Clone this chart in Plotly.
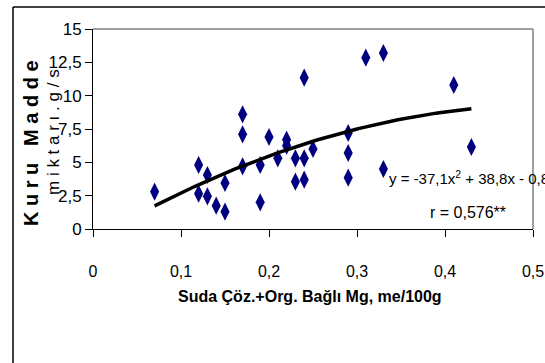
import plotly.graph_objects as go
import numpy as np

# Data
mg = [0.07, 0.12, 0.12, 0.13, 0.13, 0.14, 0.15, 0.15, 0.17, 0.17, 0.17,
      0.19, 0.19, 0.20, 0.21, 0.22, 0.22, 0.23, 0.23, 0.24, 0.24, 0.24,
      0.25, 0.29, 0.29, 0.29, 0.31, 0.33, 0.33, 0.41, 0.43]
kuru_madde = [2.8, 4.8, 2.65, 4.05, 2.45, 1.75, 3.45, 1.3, 8.6, 7.1, 4.7,
              4.8, 2.0, 6.9, 5.3, 6.7, 6.25, 5.3, 3.55, 11.35, 5.3, 3.7,
              6.0, 7.2, 5.7, 3.85, 12.85, 13.2, 4.5, 10.8, 6.15]

# Trend line coefficients (from the chart's equation)
coef_a, coef_b, coef_c = -37.1, 38.8, -0.8
trend_x_min, trend_x_max = 0.07, 0.43

x_ticks = [0, 0.1, 0.2, 0.3, 0.4, 0.5]
x_tick_labels = ["0", "0,1", "0,2", "0,3", "0,4", "0,5"]
y_ticks = [0, 2.5, 5, 7.5, 10, 12.5, 15]
y_tick_labels = ["0", "2,5", "5", "7,5", "10", "12,5", "15"]

FONT = "Liberation Sans, Arial, sans-serif"

tx = np.linspace(trend_x_min, trend_x_max, 100)
ty = coef_a * tx**2 + coef_b * tx + coef_c

fig = go.Figure()
fig.add_trace(go.Scatter(x=mg, y=kuru_madde, mode="markers",
                         marker=dict(symbol="diamond-tall", size=13, color="#000080",
                                     line=dict(width=0)),
                         cliponaxis=False, showlegend=False))
fig.add_trace(go.Scatter(x=tx, y=ty, mode="lines",
                         line=dict(color="black", width=3.5), showlegend=False))

W, H = 545, 363
L, R, T, B = 93, 12, 29, 134
PW, PH = W - L - R, H - T - B

def px_x(p):
    return (p - L) / PW

def px_y(p):
    return (H - B - p) / PH

fig.update_layout(
    width=W, height=H,
    margin=dict(l=L, r=R, t=T, b=B, autoexpand=False),
    paper_bgcolor="white", plot_bgcolor="white",
    font=dict(family=FONT, size=16, color="black"),
    xaxis=dict(range=[0, 0.5], tickvals=x_ticks, ticktext=x_tick_labels,
               automargin=False,
               showgrid=False, zeroline=False, showline=True, linecolor="black",
               linewidth=1, ticks="outside", ticklen=7, tickcolor="black",
               ticklabelstandoff=21, tickfont=dict(size=16, family=FONT)),
    yaxis=dict(range=[0, 15], tickvals=y_ticks, ticktext=y_tick_labels,
               automargin=False,
               showgrid=False, zeroline=False, showline=True, linecolor="black",
               linewidth=1, ticks="outside", ticklen=7, tickcolor="black",
               tickfont=dict(size=17, family=FONT)),
    shapes=[
        dict(type="line", xref="paper", yref="paper", x0=0, x1=1, y0=1, y1=1,
             line=dict(color="#808080", width=1.5)),
        dict(type="line", xref="paper", yref="paper", x0=1, x1=1, y0=0, y1=1,
             line=dict(color="#808080", width=1.5)),
        dict(type="line", xref="paper", yref="paper",
             x0=px_x(13), x1=px_x(13), y0=px_y(364), y1=px_y(7),
             line=dict(color="black", width=1.5)),
        dict(type="line", xref="paper", yref="paper",
             x0=px_x(13), x1=px_x(546), y0=px_y(7), y1=px_y(7),
             line=dict(color="black", width=1.5)),
    ],
    annotations=[
        dict(text="Suda Çöz.+Org. Bağlı Mg, me/100g", xref="paper", yref="paper",
             x=px_x(310), y=px_y(296), showarrow=False,
             xanchor="center", yanchor="middle",
             font=dict(size=16, family=FONT, color="black", weight="bold")),
        dict(text="K u r u   M a d d e", xref="paper", yref="paper",
             x=px_x(31), y=px_y(143), showarrow=False, textangle=-90,
             xanchor="center", yanchor="middle",
             font=dict(size=20, family=FONT, color="black", weight="bold")),
        dict(text="m i k t a r ı . g / s", xref="paper", yref="paper",
             x=px_x(53), y=px_y(132), showarrow=False, textangle=-90,
             xanchor="center", yanchor="middle",
             font=dict(size=17, family=FONT, color="black")),
        dict(text="y = -37,1x<sup>2</sup> + 38,8x - 0,8", xref="paper", yref="paper",
             x=px_x(387), y=px_y(177), showarrow=False,
             xanchor="left", yanchor="middle",
             font=dict(size=15, family=FONT, color="black")),
        dict(text="r = 0,576**", xref="paper", yref="paper",
             x=px_x(468), y=px_y(212), showarrow=False,
             xanchor="center", yanchor="middle",
             font=dict(size=16, family=FONT, color="black")),
    ],
)

fig.write_html("out.html", config={"displayModeBar": False},
               post_script="document.body.style.margin='0';document.body.style.overflow='hidden';")
